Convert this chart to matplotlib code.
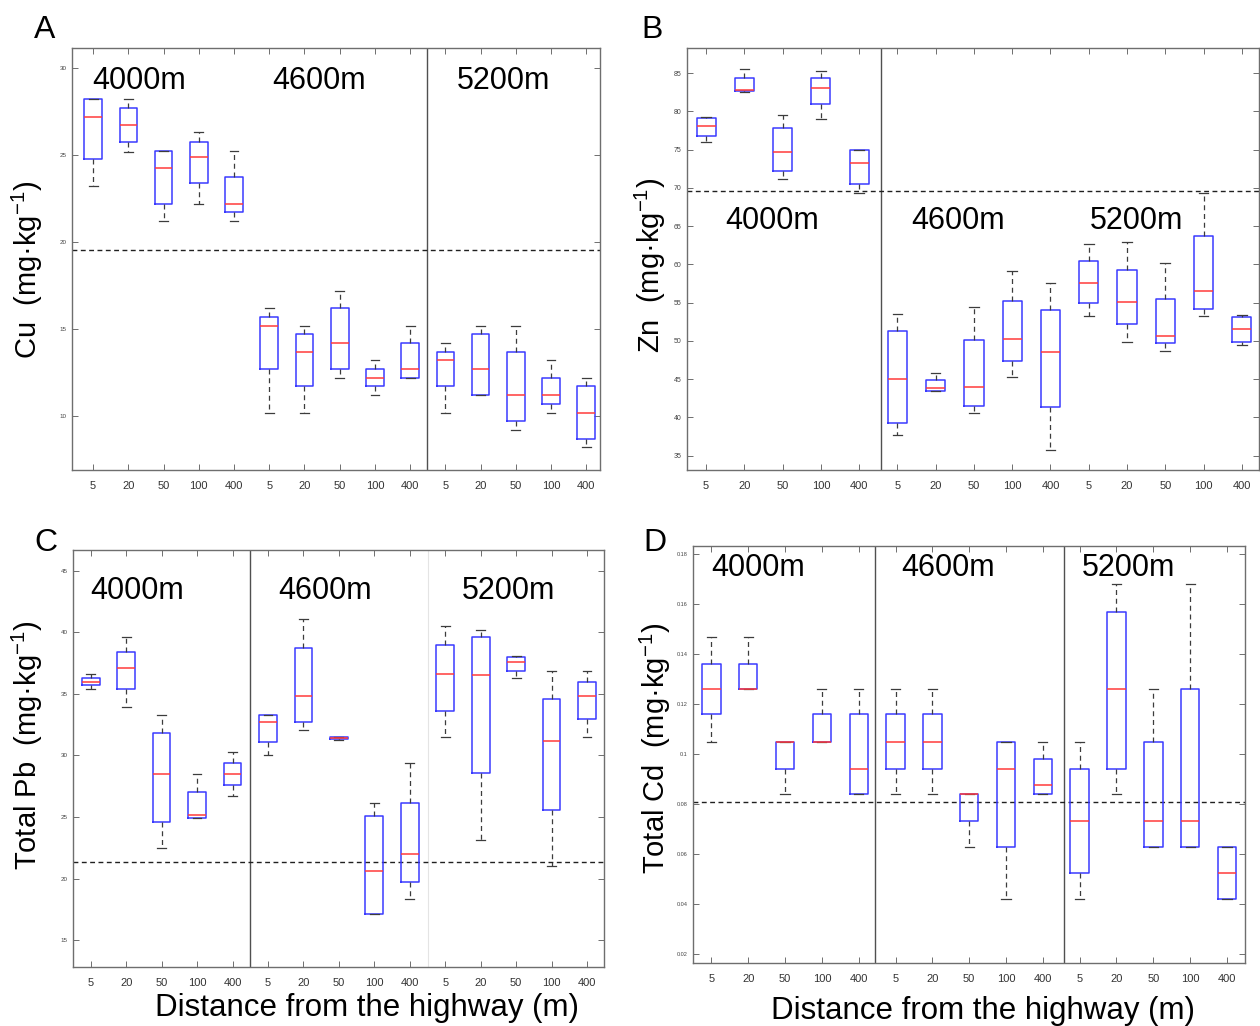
import matplotlib
matplotlib.use("Agg")
import matplotlib.pyplot as plt
from matplotlib import transforms

plt.rcParams['font.family'] = ['Liberation Sans', 'DejaVu Sans']
plt.rcParams['mathtext.fontset'] = 'custom'
plt.rcParams['mathtext.rm'] = 'Liberation Sans'
plt.rcParams['mathtext.it'] = 'Liberation Sans:italic'
plt.rcParams['mathtext.default'] = 'regular'

# ---------------- data ----------------
distance_labels = ['5', '20', '50', '100', '400']
altitudes = ['4000m', '4600m', '5200m']
tick_labels = distance_labels * 3

# Cu (mg/kg)
cu_hi  = [28.2, 28.2, 25.25, 26.3, 25.25, 16.2, 15.2, 17.2, 13.2, 15.2, 14.2, 15.2, 15.2, 13.2, 12.2]
cu_q3  = [28.2, 27.7, 25.25, 25.75, 23.75, 15.7, 14.7, 16.2, 12.7, 14.2, 13.7, 14.7, 13.7, 12.2, 11.7]
cu_med = [27.2, 26.75, 24.25, 24.9, 22.2, 15.2, 13.7, 14.2, 12.2, 12.7, 13.2, 12.7, 11.2, 11.2, 10.2]
cu_q1  = [24.75, 25.75, 22.2, 23.4, 21.7, 12.7, 11.7, 12.7, 11.7, 12.2, 11.7, 11.2, 9.7, 10.7, 8.7]
cu_lo  = [23.2, 25.2, 21.2, 22.2, 21.2, 10.2, 10.2, 12.2, 11.2, 12.2, 10.2, 11.2, 9.2, 10.2, 8.2]
cu_ref = 19.54

# Zn (mg/kg)
zn_hi  = [79.3, 85.5, 79.5, 85.2, 74.9, 53.5, 45.8, 54.4, 59.1, 57.6, 62.7, 62.9, 60.2, 69.3, 53.4]
zn_q3  = [79.1, 84.3, 77.8, 84.3, 74.9, 51.3, 44.9, 50.1, 55.2, 54.0, 60.5, 59.2, 55.5, 63.7, 53.1]
zn_med = [78.1, 82.8, 74.7, 83.1, 73.3, 45.0, 43.9, 44.0, 50.3, 48.6, 57.5, 55.1, 50.7, 56.5, 51.5]
zn_q1  = [76.8, 82.6, 72.2, 80.9, 70.5, 39.3, 43.5, 41.5, 47.4, 41.3, 54.9, 52.2, 49.7, 54.2, 49.8]
zn_lo  = [76.0, 82.5, 71.1, 79.0, 69.3, 37.7, 43.5, 40.6, 45.3, 35.8, 53.2, 49.8, 48.7, 53.2, 49.5]
zn_ref = 69.58

# Pb (mg/kg)
pb_hi  = [36.6, 39.6, 33.3, 28.5, 30.3, 33.3, 41.1, 31.5, 26.1, 29.4, 40.5, 40.2, 38.1, 36.9, 36.9]
pb_q3  = [36.3, 38.4, 31.8, 27.0, 29.4, 33.3, 38.7, 31.5, 25.1, 26.1, 39.0, 39.6, 38.0, 34.6, 36.0]
pb_med = [36.0, 37.1, 28.5, 25.2, 28.5, 32.75, 34.8, 31.4, 20.6, 22.0, 36.6, 36.55, 37.6, 31.2, 34.8]
pb_q1  = [35.7, 35.4, 24.6, 24.95, 27.6, 31.1, 32.7, 31.3, 17.1, 19.7, 33.6, 28.6, 36.85, 25.6, 33.0]
pb_lo  = [35.4, 33.9, 22.5, 24.95, 26.7, 30.0, 32.1, 31.25, 17.1, 18.3, 31.5, 23.1, 36.3, 21.0, 31.5]
pb_ref = 21.31

# Cd (mg/kg)
cd_hi  = [0.147, 0.147, 0.105, 0.126, 0.126, 0.126, 0.126, 0.084, 0.105, 0.105, 0.105, 0.168, 0.126, 0.168, 0.063]
cd_q3  = [0.136, 0.136, 0.105, 0.116, 0.116, 0.116, 0.116, 0.084, 0.105, 0.098, 0.094, 0.157, 0.105, 0.126, 0.063]
cd_med = [0.126, 0.126, 0.105, 0.105, 0.094, 0.105, 0.105, 0.084, 0.094, 0.0875, 0.0735, 0.126, 0.0735, 0.0735, 0.0525]
cd_q1  = [0.116, 0.126, 0.094, 0.105, 0.084, 0.094, 0.094, 0.0735, 0.063, 0.084, 0.0525, 0.094, 0.063, 0.063, 0.042]
cd_lo  = [0.105, 0.126, 0.084, 0.105, 0.084, 0.084, 0.084, 0.063, 0.042, 0.084, 0.042, 0.084, 0.063, 0.063, 0.042]
cd_ref = 0.0808

cu_yticks = [10, 15, 20, 25, 30]
zn_yticks = [35, 40, 45, 50, 55, 60, 65, 70, 75, 80, 85]
pb_yticks = [15, 20, 25, 30, 35, 40, 45]
cd_yticks = [0.02, 0.04, 0.06, 0.08, 0.1, 0.12, 0.14, 0.16, 0.18]
cd_yticklabels = ['0.02', '0.04', '0.06', '0.08', '0.1', '0.12', '0.14', '0.16', '0.18']

# ---------------- layout ----------------
W, H = 1260, 1026
fig = plt.figure(figsize=(W / 100, H / 100), dpi=100)


def rect(l, t, r, b):
    return [l / W, 1 - b / H, (r - l) / W, (b - t) / H]


BOX_C = '#3a3aff'
MED_C = '#ff3b3b'
WH_C = '#3c3c3c'
SPINE_C = '#6e6e6e'


def panel(r, lo, q1, med, q3, hi, ref, ylim, xlim, yticks, vlines,
          glabel_x, glabel_y, yticklabels=None, ytick_fs=4.5,
          faint_vlines=()):
    ax = fig.add_axes(r)
    stats = []
    for i in range(len(med)):
        stats.append(dict(whislo=lo[i], q1=q1[i], med=med[i], q3=q3[i],
                          whishi=hi[i], fliers=[]))
    pos = list(range(1, len(med) + 1))
    for xv in faint_vlines:
        ax.axvline(xv, color='#e4e4e4', lw=0.8, zorder=0)
    for xv in vlines:
        ax.axvline(xv, color='#505050', lw=1.0, zorder=1)
    ax.axhline(ref, color='#202020', lw=1.0, ls=(0, (3.5, 2.5)), zorder=1)
    ax.bxp(stats, positions=pos, widths=0.5, showfliers=False,
           boxprops=dict(color=BOX_C, lw=1.1),
           medianprops=dict(color=MED_C, lw=1.1),
           whiskerprops=dict(color=WH_C, lw=0.9, ls=(0, (4, 3))),
           capprops=dict(color=WH_C, lw=0.9))
    ax.set_xlim(*xlim)
    ax.set_ylim(*ylim)
    ax.set_xticks(pos)
    ax.set_xticklabels(tick_labels, fontsize=8, color='#333333')
    ax.set_yticks(yticks)
    if yticklabels is not None:
        ax.set_yticklabels(yticklabels)
    ax.tick_params(axis='y', labelsize=ytick_fs, labelcolor='#444444',
                   direction='in', length=4, width=0.7, color=SPINE_C,
                   right=True, pad=4)
    ax.tick_params(axis='x', direction='in', length=4, width=0.7,
                   color=SPINE_C, top=True, pad=8)
    for s in ax.spines.values():
        s.set_color(SPINE_C)
        s.set_linewidth(1.0)
    trans = transforms.blended_transform_factory(ax.transData, ax.transAxes)
    for txt, gx in zip(altitudes, glabel_x):
        ax.text(gx, glabel_y, txt, transform=trans, fontsize=22,
                ha='left', va='center', color='black')
    return ax


axA = panel(rect(72, 48, 600, 470), cu_lo, cu_q1, cu_med, cu_q3, cu_hi, cu_ref,
            (6.9, 31.15), (0.4, 15.39), cu_yticks, [10.49],
            [0.98, 6.08, 11.32], 0.922)
axB = panel(rect(687, 48, 1259, 470), zn_lo, zn_q1, zn_med, zn_q3, zn_hi, zn_ref,
            (33.13, 88.27), (0.5, 15.45), zn_yticks, [5.56],
            [1.49, 6.37, 11.02], 0.59, ytick_fs=5)
axC = panel(rect(73, 550, 604, 967), pb_lo, pb_q1, pb_med, pb_q3, pb_hi, pb_ref,
            (12.81, 46.7), (0.5, 15.48), pb_yticks, [5.48],
            [0.98, 6.3, 11.47], 0.902, faint_vlines=[10.52])
axD = panel(rect(693, 546, 1245, 963), cd_lo, cd_q1, cd_med, cd_q3, cd_hi, cd_ref,
            (0.01656, 0.1832), (0.5, 15.49), cd_yticks, [5.43, 10.58],
            [0.99, 6.15, 11.07], 0.947, yticklabels=cd_yticklabels,
            ytick_fs=4)


def ftext(x, y, s, **kw):
    fig.text(x / W, 1 - y / H, s, **kw)


unit = '  (mg·kg$^{-1}$)'
ftext(27, 270, 'Cu' + unit, rotation=90, fontsize=21, ha='center', va='center')
ftext(650, 265, 'Zn' + unit, rotation=90, fontsize=21, ha='center', va='center')
ftext(27, 745, 'Total Pb' + unit, rotation=90, fontsize=21, ha='center', va='center')
ftext(655, 748, 'Total Cd' + unit, rotation=90, fontsize=21, ha='center', va='center')

ftext(367, 1008, 'Distance from the highway (m)', fontsize=22.5, ha='center', va='center')
ftext(983, 1011, 'Distance from the highway (m)', fontsize=22.5, ha='center', va='center')

ftext(45, 30, 'A', fontsize=23, ha='center', va='center')
ftext(652, 30, 'B', fontsize=23, ha='center', va='center')
ftext(46, 543, 'C', fontsize=23, ha='center', va='center')
ftext(655, 543, 'D', fontsize=23, ha='center', va='center')

fig.savefig('out.png', dpi=100)
